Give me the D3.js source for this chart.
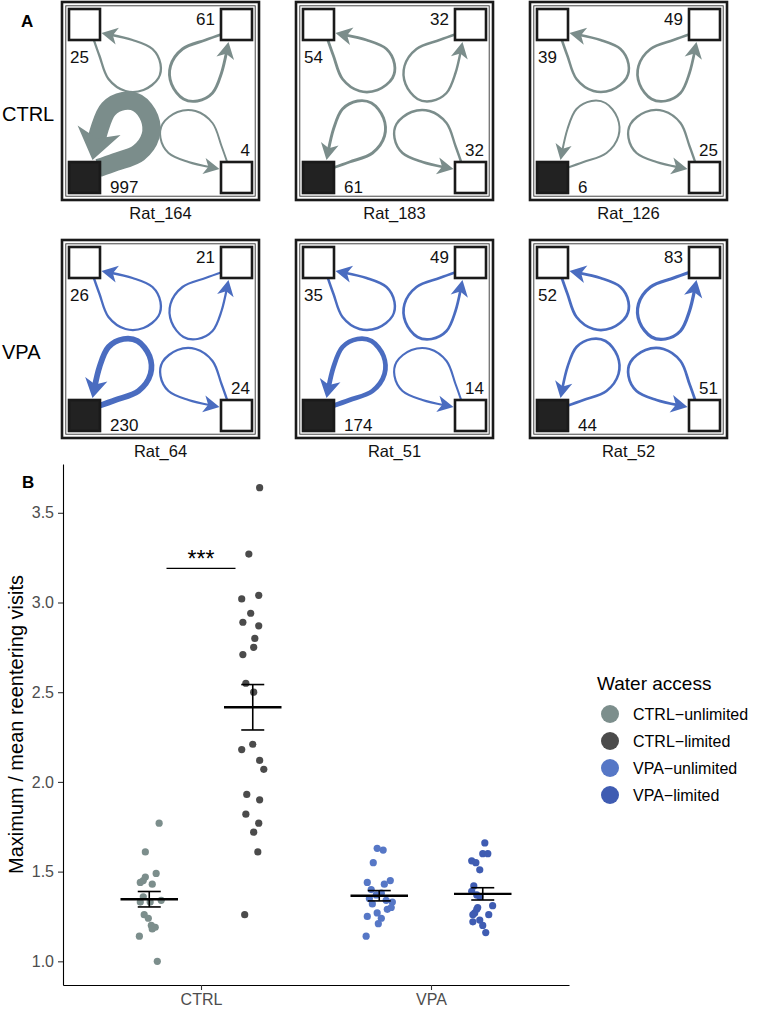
<!DOCTYPE html>
<html><head><meta charset="utf-8">
<script src="https://cdn.jsdelivr.net/npm/d3@7"></script>
<style>
body{margin:0;background:#fff}
text{font-family:"Liberation Sans",Arial,Helvetica,sans-serif}
</style>
</head><body><svg id="c" width="767" height="1009"></svg>
<script>
// ---------------- Panel A data ----------------
const ratNames  = ["Rat_164","Rat_183","Rat_126","Rat_64","Rat_51","Rat_52"];
const ratGroups = ["CTRL","CTRL","CTRL","VPA","VPA","VPA"];
const rowLabels = ["CTRL","VPA"];
// re-entering visit counts per corner (top-left, top-right, bottom-right, bottom-left)
const visitsTL = [25, 54, 39, 26, 35, 52];
const visitsTR = [61, 32, 49, 21, 49, 83];
const visitsBR = [4, 32, 25, 24, 14, 51];
const visitsBL = [997, 61, 6, 230, 174, 44];

// ---------------- Panel B data ----------------
const groups = ["CTRL","VPA"];
const waterAccess = ["CTRL-unlimited","CTRL-limited","VPA-unlimited","VPA-limited"];
const ctrlUnlimited = [1.77,1.61,1.49,1.47,1.45,1.44,1.43,1.36,1.34,1.33,1.33,1.26,1.24,1.20,1.19,1.18,1.14,1.00];
const ctrlUnlimitedJitter = [0.043,-0.017,0.030,-0.017,-0.026,-0.039,0.013,-0.026,0.052,-0.039,0.004,-0.022,-0.004,0.009,0.026,0.013,-0.043,0.035];
const ctrlLimited = [3.64,3.27,3.04,3.02,2.94,2.89,2.87,2.80,2.75,2.71,2.55,2.50,2.21,2.18,2.12,2.07,1.93,1.90,1.82,1.77,1.72,1.61,1.26];
const ctrlLimitedJitter = [0.030,-0.017,0.026,-0.048,-0.009,-0.043,0.026,0.009,0.004,-0.043,-0.030,0.004,0,-0.048,0.030,0.048,-0.026,0.030,-0.030,0.026,0.004,0.022,-0.035];
const vpaUnlimited = [1.63,1.62,1.55,1.45,1.44,1.43,1.40,1.38,1.37,1.35,1.34,1.33,1.32,1.30,1.29,1.27,1.25,1.24,1.21,1.14];
const vpaUnlimitedJitter = [-0.009,0.017,-0.026,0.048,-0.052,0.022,-0.035,0.009,-0.013,-0.043,0.030,0.057,-0.030,0.052,0.035,-0.009,-0.052,0.009,-0.004,-0.057];
const vpaLimited = [1.66,1.60,1.60,1.56,1.55,1.51,1.42,1.39,1.37,1.36,1.31,1.30,1.29,1.27,1.26,1.26,1.23,1.22,1.20,1.16];
const vpaLimitedJitter = [0.009,0,0.022,-0.048,-0.030,-0.013,-0.039,-0.048,-0.026,-0.013,0.043,-0.022,-0.026,-0.035,0.026,-0.043,-0.013,-0.043,0,0.013];
const yTicks = [1.0,1.5,2.0,2.5,3.0,3.5];
const sigLabel = "***";
const sigY = 3.19;

// ---------------- styles ----------------
const arrowColor = {CTRL:"#7b8d8b", VPA:"#4a6cc0"};
const pointColor = {"CTRL-unlimited":"#7c8e8c","CTRL-limited":"#4b4b4b","VPA-unlimited":"#5677c6","VPA-limited":"#3f5cb2"};

const svg = d3.select("#c");

// ================= Panel A =================
const boxW = 197, boxH = 198, sq = 31, inset = 7;
const colX = [62, 296, 530], rowY = [2, 240];
const corners = ["TL","TR","BR","BL"];
const cornerVals = [visitsTL, visitsTR, visitsBR, visitsBL];
const widthScale = d3.scaleLinear().domain([0, 1000]).range([1.9, 18.3]);

// loop glyph for the top-left corner, relative to box centre; rotated for others
const loopTemplate = [[-67,-62],[-61,-45],[-52,-22],[-35,-10],[-17,-11],[-2,-23],[0,-37],[-8,-52],[-28,-61],[-59,-68]];
const rot = (p,k) => { let [x,y]=p; for(let i=0;i<k;i++){ [x,y]=[-y,x]; } return [x,y]; };
const lineGen = d3.line().curve(d3.curveCatmullRom.alpha(0.5));

svg.append("text").attr("x",21).attr("y",27).attr("font-size",17).attr("font-weight","bold").text("A");

rowLabels.forEach((lab,r)=>{
  svg.append("text").attr("x",2).attr("y",rowY[r]+boxH/2+20).attr("font-size",20).text(lab);
});

ratNames.forEach((name,i)=>{
  const r = Math.floor(i/3), c = i%3;
  const x0 = colX[c], y0 = rowY[r];
  const g = svg.append("g");
  const col = arrowColor[ratGroups[i]];
  g.append("rect").attr("x",x0).attr("y",y0).attr("width",boxW).attr("height",boxH)
    .attr("fill","#fff").attr("stroke","#1a1a1a").attr("stroke-width",2.6);
  g.append("rect").attr("x",x0+3.8).attr("y",y0+3.8).attr("width",boxW-7.6).attr("height",boxH-7.6)
    .attr("fill","none").attr("stroke","#333").attr("stroke-width",0.9);
  const sqPos = {
    TL:[x0+inset, y0+inset], TR:[x0+boxW-inset-sq, y0+inset],
    BR:[x0+boxW-inset-sq, y0+boxH-inset-sq], BL:[x0+inset, y0+boxH-inset-sq]
  };
  const cx = x0+boxW/2, cy = y0+boxH/2;
  corners.forEach((cn,k)=>{
    const v = cornerVals[k][i];
    const w = widthScale(v);
    const pts = loopTemplate.map(p=>rot(p,k)).map(([px,py])=>[cx+px, cy+py]);
    const path = g.append("path").attr("d", lineGen(pts)).attr("fill","none")
      .attr("stroke",col).attr("stroke-width",w).attr("stroke-linecap","butt").attr("stroke-linejoin","round");
    const node = path.node();
    const L = node.getTotalLength();
    const headLen = 14 + w*0.9, hw = 6.5 + w*0.85;
    const tip = node.getPointAtLength(L);
    const base = node.getPointAtLength(L-headLen);
    let dx = tip.x-base.x, dy = tip.y-base.y; const dl = Math.hypot(dx,dy); dx/=dl; dy/=dl;
    const bx = tip.x-dx*headLen, by = tip.y-dy*headLen;
    const nx = -dy, ny = dx;
    const notchX = tip.x-dx*headLen*0.72, notchY = tip.y-dy*headLen*0.72;
    path.attr("stroke-dasharray", `${L-headLen*0.6} ${L}`);
    g.append("path").attr("d",`M${tip.x},${tip.y}L${bx+nx*hw},${by+ny*hw}L${notchX},${notchY}L${bx-nx*hw},${by-ny*hw}Z`)
      .attr("fill",col);
  });
  corners.forEach((cn,k)=>{
    const [sx,sy] = sqPos[cn];
    g.append("rect").attr("x",sx).attr("y",sy).attr("width",sq).attr("height",sq)
      .attr("fill", cn==="BL" ? "#222" : "#fff").attr("stroke","#1a1a1a").attr("stroke-width",2.6);
    const v = cornerVals[k][i];
    let tx, ty, anchor;
    if(cn==="TL"){ tx=sx+1; ty=sy+sq+23; anchor="start"; }
    if(cn==="TR"){ tx=sx-6; ty=sy+16; anchor="end"; }
    if(cn==="BR"){ tx=sx+sq-2; ty=sy-6; anchor="end"; }
    if(cn==="BL"){ tx=sx+sq+10; ty=sy+sq; anchor="start"; }
    g.append("text").attr("x",tx).attr("y",ty).attr("text-anchor",anchor).attr("font-size",17).attr("fill","#111").text(v);
  });
  g.append("text").attr("x",x0+boxW/2).attr("y",y0+boxH+19).attr("text-anchor","middle").attr("font-size",16.5).attr("fill","#111").text(name);
});

// ================= Panel B =================
const plotL = 63, plotR = 569, plotT = 464, plotB = 985;
const series = [
  {name:"CTRL-unlimited", group:"CTRL", side:-1, vals:ctrlUnlimited, jit:ctrlUnlimitedJitter},
  {name:"CTRL-limited",   group:"CTRL", side: 1, vals:ctrlLimited,   jit:ctrlLimitedJitter},
  {name:"VPA-unlimited",  group:"VPA",  side:-1, vals:vpaUnlimited,  jit:vpaUnlimitedJitter},
  {name:"VPA-limited",    group:"VPA",  side: 1, vals:vpaLimited,    jit:vpaLimitedJitter}
];
const allVals = series.flatMap(s=>s.vals);
const [mn,mx] = d3.extent(allVals);
const pad = (mx-mn)*0.05;
const y = d3.scaleLinear().domain([mn-pad, mx+pad]).range([plotB, plotT]);
const x = d3.scalePoint().domain(groups).range([plotL, plotR]).padding(0.6);
const step = x.step();
const dodge = 0.225;
const xc = s => x(s.group) + s.side*dodge*step;

svg.append("text").attr("x",22).attr("y",488).attr("font-size",17).attr("font-weight","bold").text("B");

const yAx = svg.append("g").attr("transform",`translate(${plotL},0)`)
  .call(d3.axisLeft(y).tickValues(yTicks).tickFormat(d3.format(".1f")).tickSize(5).tickSizeOuter(0).tickPadding(4));
const xAx = svg.append("g").attr("transform",`translate(0,${plotB})`)
  .call(d3.axisBottom(x).tickSize(5).tickSizeOuter(0).tickPadding(4));
[yAx,xAx].forEach(a=>{
  a.selectAll("text").attr("font-size",16).attr("fill","#4d4d4d").attr("font-family",'"Liberation Sans",Arial,Helvetica,sans-serif');
  a.select(".domain").attr("stroke","#000").attr("stroke-width",1.1);
  a.selectAll(".tick line").attr("stroke","#333").attr("stroke-width",1.1);
});

svg.append("text").attr("transform",`translate(23,${(plotT+plotB)/2}) rotate(-90)`)
  .attr("text-anchor","middle").attr("font-size",20).attr("fill","#000").text("Maximum / mean reentering visits");

// points
series.forEach(s=>{
  svg.append("g").selectAll("circle").data(s.vals).join("circle")
    .attr("cx",(d,j)=>xc(s) + s.jit[j]*step).attr("cy",d=>y(d)).attr("r",3.6)
    .attr("fill",pointColor[s.name]);
});
// mean ± SE
series.forEach(s=>{
  const m = d3.mean(s.vals), se = d3.deviation(s.vals)/Math.sqrt(s.vals.length);
  const cxp = xc(s), half = 0.125*step, cap = 0.05*step;
  const g = svg.append("g").attr("stroke","#000");
  g.append("line").attr("x1",cxp).attr("x2",cxp).attr("y1",y(m-se)).attr("y2",y(m+se)).attr("stroke-width",1.6);
  g.append("line").attr("x1",cxp-cap).attr("x2",cxp+cap).attr("y1",y(m-se)).attr("y2",y(m-se)).attr("stroke-width",1.6);
  g.append("line").attr("x1",cxp-cap).attr("x2",cxp+cap).attr("y1",y(m+se)).attr("y2",y(m+se)).attr("stroke-width",1.6);
  g.append("line").attr("x1",cxp-half).attr("x2",cxp+half).attr("y1",y(m)).attr("y2",y(m)).attr("stroke-width",2.4);
});
// significance
svg.append("line").attr("x1",x("CTRL")-0.15*step).attr("x2",x("CTRL")+0.15*step)
  .attr("y1",y(sigY)).attr("y2",y(sigY)).attr("stroke","#000").attr("stroke-width",1.2);
svg.append("text").attr("x",x("CTRL")).attr("y",y(sigY)-1).attr("text-anchor","middle").attr("font-size",23).text(sigLabel);

// legend
const lg = svg.append("g").attr("transform","translate(597,0)");
lg.append("text").attr("x",0).attr("y",690).attr("font-size",19).text("Water access");
waterAccess.forEach((n,k)=>{
  const cy = 714 + k*27;
  lg.append("circle").attr("cx",13).attr("cy",cy).attr("r",9).attr("fill",pointColor[n]);
  lg.append("text").attr("x",36).attr("y",cy+6).attr("font-size",16).text(n.replace("-","\u2212"));
});
</script></body></html>
